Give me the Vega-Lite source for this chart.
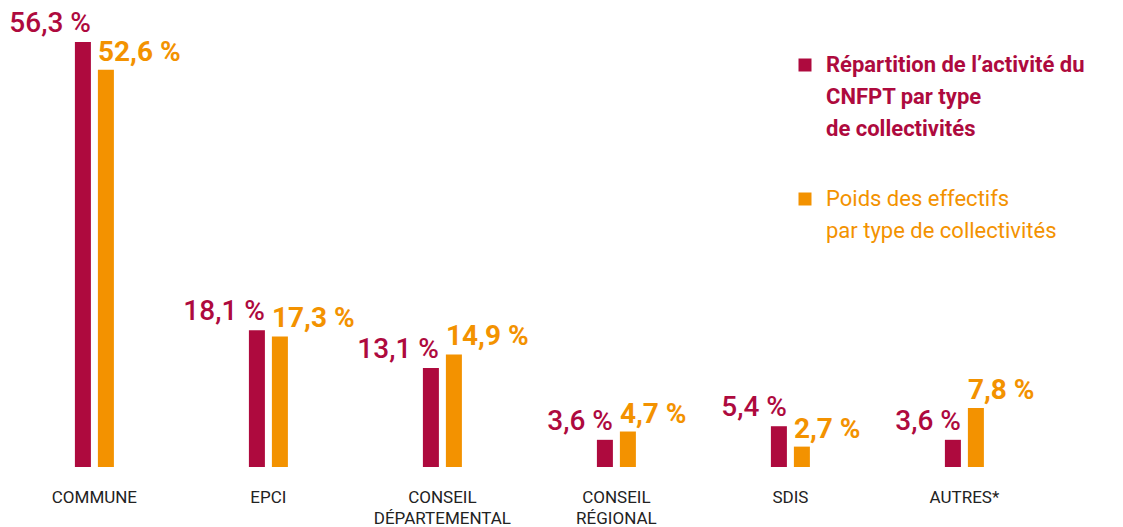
{
  "$schema": "https://vega.github.io/schema/vega-lite/v6.json",
  "width": 1123,
  "height": 467,
  "autosize": {"type": "none"},
  "padding": {"top": 0, "left": 0, "right": 0, "bottom": 60},
  "background": "white",
  "config": {
    "view": {"stroke": null},
    "font": "Roboto",
    "style": {"guide-label": {"lineHeight": 32}}
  },
  "data": {
    "values": [
      {"type": "COMMUNE", "series": "activite", "value": 56.3},
      {"type": "COMMUNE", "series": "effectifs", "value": 52.6},
      {"type": "EPCI", "series": "activite", "value": 18.1},
      {"type": "EPCI", "series": "effectifs", "value": 17.3},
      {"type": "CONSEIL DÉPARTEMENTAL", "series": "activite", "value": 13.1},
      {"type": "CONSEIL DÉPARTEMENTAL", "series": "effectifs", "value": 14.9},
      {"type": "CONSEIL RÉGIONAL", "series": "activite", "value": 3.6},
      {"type": "CONSEIL RÉGIONAL", "series": "effectifs", "value": 4.7},
      {"type": "SDIS", "series": "activite", "value": 5.4},
      {"type": "SDIS", "series": "effectifs", "value": 2.7},
      {"type": "AUTRES*", "series": "activite", "value": 3.6},
      {"type": "AUTRES*", "series": "effectifs", "value": 7.8}
    ]
  },
  "transform": [
    {"calculate": "replace(format(datum.value, '.1f'), '.', ',') + ' %'", "as": "label"}
  ],
  "encoding": {
    "x": {
      "field": "type",
      "type": "nominal",
      "sort": null,
      "scale": {"paddingInner": 0.7759, "paddingOuter": 0.615, "align": 0.35},
      "axis": {
        "title": null,
        "domain": false,
        "ticks": false,
        "grid": false,
        "labelAngle": 0,
        "labelFont": "Roboto",
        "labelFontSize": 17,
        "labelColor": "#222222",
        "labelPadding": 22,
        "labelLineHeight": 21,
        "labelOverlap": false,
        "labelExpr": "split(datum.label, ' ')"
      }
    },
    "xOffset": {
      "field": "series",
      "type": "nominal",
      "sort": ["activite", "effectifs"],
      "scale": {"paddingInner": 0.304, "paddingOuter": 0}
    },
    "y": {
      "field": "value",
      "type": "quantitative",
      "scale": {"domain": [0, 61.85]},
      "axis": null
    }
  },
  "layer": [
    {
      "mark": {"type": "bar"},
      "encoding": {
        "color": {
          "field": "series",
          "type": "nominal",
          "scale": {"domain": ["activite", "effectifs"], "range": ["#ae0a3e", "#f39200"]},
          "legend": {
            "orient": "none",
            "legendX": 794,
            "legendY": 54,
            "title": null,
            "padding": 0,
            "symbolType": "square",
            "symbolSize": 169,
            "symbolStrokeWidth": 0,
            "symbolOpacity": 1,
            "labelFont": "Roboto",
            "labelFontSize": 22,
            "labelOffset": 10,
            "labelLimit": 500,
            "labelBaseline": "middle",
            "rowPadding": 48,
            "labelColor": {"expr": "datum.value == 'activite' ? '#ae0a3e' : '#f39200'"},
            "labelFontWeight": {"expr": "datum.value == 'activite' ? 'bold' : 'normal'"},
            "labelExpr": "datum.value == 'activite' ? ['Répartition de l’activité du', 'CNFPT par type', 'de collectivités'] : ['Poids des effectifs', 'par type de collectivités']"
          }
        }
      }
    },
    {
      "transform": [{"filter": "datum.series == 'activite'"}],
      "mark": {"type": "text", "align": "right", "baseline": "alphabetic", "dx": 8, "dy": -10, "fontSize": 28, "fontWeight": 500, "color": "#ae0a3e", "font": "Roboto"},
      "encoding": {"text": {"field": "label"}}
    },
    {
      "transform": [{"filter": "datum.series == 'effectifs'"}],
      "mark": {"type": "text", "align": "left", "baseline": "alphabetic", "dx": -8, "dy": -9, "fontSize": 28, "fontWeight": "bold", "color": "#f39200", "font": "Roboto"},
      "encoding": {"text": {"field": "label"}}
    }
  ]
}
